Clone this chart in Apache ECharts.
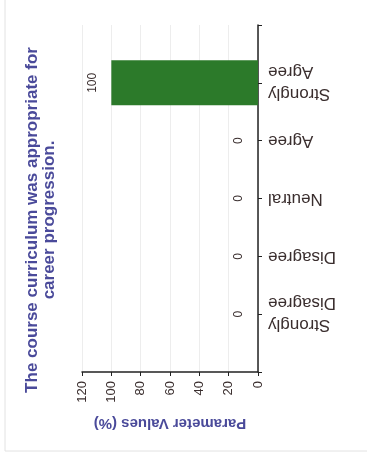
<!DOCTYPE html>
<html>
<head>
<meta charset="utf-8">
<script src="https://cdn.jsdelivr.net/npm/echarts@6/dist/echarts.min.js"></script>
<style>
  html, body { margin: 0; padding: 0; background: #fff; }
  #chart { width: 367px; height: 459px; }
</style>
</head>
<body>
<div id="chart"></div>
<script>
// data (order: left to right in the upright chart)
const categories = ['Strongly\nDisagree', 'Disagree', 'Neutral', 'Agree', 'Strongly\nAgree']
const values = [0, 0, 0, 0, 100]
const valueTicks = [0, 20, 40, 60, 80, 100, 120]

const titleText = 'The course curriculum was appropriate for\ncareer progression.'
const axisTitle = 'Parameter Values (%)'

// padding slots at both ends so the category axis runs past the first/last bar
const axisCats = [''].concat(categories, [''])
const barData = ['-'].concat(values, ['-'])

const chart = echarts.init(document.getElementById('chart'))

const options = {
  backgroundColor: '#fff',
  animation: false,
  // the whole chart is turned a quarter turn, so the title is drawn by hand
  graphic: [
    {
      type: 'rect',
      shape: { x: 5, y: -10, width: 380, height: 461 },
      style: { fill: 'none', stroke: '#e2e2e2', lineWidth: 1 },
      silent: true
    },
    {
      type: 'text',
      x: 41,
      y: 220,
      rotation: Math.PI / 2,
      style: {
        text: titleText,
        fill: '#4a4a9a',
        font: 'bold 17px "Liberation Sans", Arial, sans-serif',
        lineHeight: 17,
        textAlign: 'center',
        textVerticalAlign: 'middle'
      }
    }
  ],
  grid: {
    left: 82,
    right: 109,
    top: 25,
    bottom: 87,
    outerBoundsMode: 'none'
  },
  xAxis: {
    type: 'value',
    inverse: true,
    position: 'bottom',
    min: valueTicks[0],
    max: valueTicks[valueTicks.length - 1],
    interval: 20,
    name: axisTitle,
    nameLocation: 'middle',
    nameGap: 44,
    nameRotate: 180,
    nameTextStyle: {
      color: '#4a4a9a',
      fontWeight: 'bold',
      fontSize: 15,
      fontFamily: '"Liberation Sans", Arial, sans-serif'
    },
    axisLine: { show: true, onZero: false, lineStyle: { color: '#222', width: 1.5 } },
    axisTick: { show: true, length: 4, lineStyle: { color: '#222' } },
    axisLabel: {
      rotate: 90,
      margin: 9,
      color: '#3a2e2e',
      fontSize: 13,
      fontFamily: '"Liberation Sans", Arial, sans-serif'
    },
    splitLine: { show: true, lineStyle: { color: '#ededed', width: 1 } }
  },
  yAxis: {
    type: 'category',
    position: 'right',
    data: axisCats,
    boundaryGap: false,
    axisLine: { show: true, onZero: false, lineStyle: { color: '#222', width: 1.5 } },
    axisTick: { show: true, length: 4, lineStyle: { color: '#222' } },
    axisLabel: {
      rotate: 180,
      margin: 10,
      color: '#3a2e2e',
      fontSize: 17,
      lineHeight: 22,
      fontFamily: '"Liberation Sans", Arial, sans-serif'
    },
    splitLine: { show: false }
  },
  series: [
    {
      type: 'bar',
      data: barData,
      barWidth: 45,
      itemStyle: { color: '#2c7a2a' },
      label: {
        show: true,
        position: 'left',
        distance: 13,
        rotate: 90,
        align: 'center',
        verticalAlign: 'bottom',
        color: '#3a2e2e',
        fontSize: 12,
        fontFamily: '"Liberation Sans", Arial, sans-serif'
      }
    }
  ]
}

chart.setOption(options)

window.addEventListener('resize', () => {
  chart.resize()
})
</script>
</body>
</html>
